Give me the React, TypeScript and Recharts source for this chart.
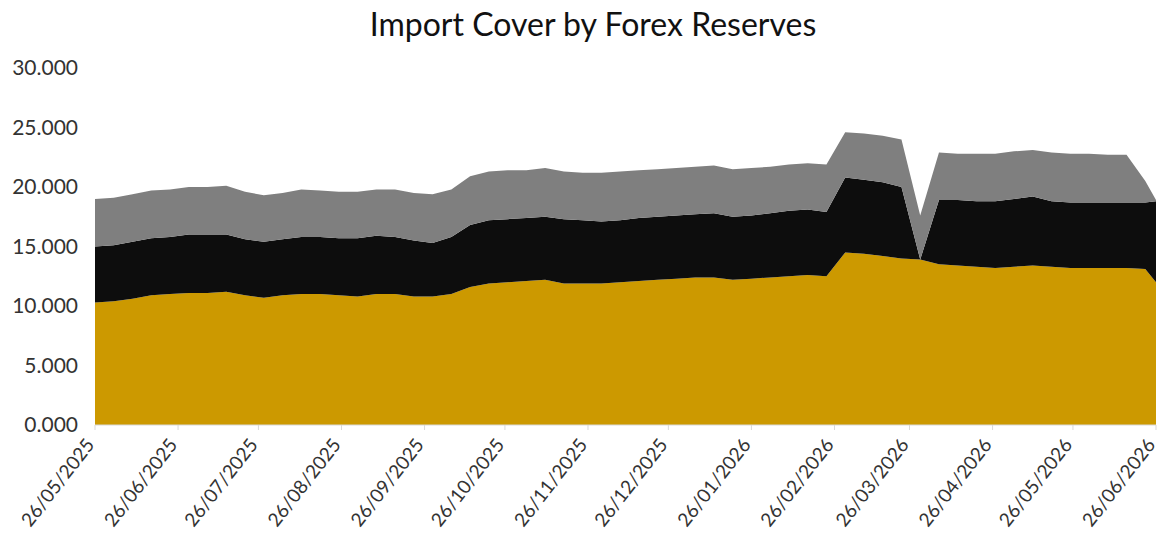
import React from "react";
import { AreaChart, Area, XAxis, YAxis } from "recharts";

// weekly observation dates
const dates = [
  "26/05/2025", "02/06/2025", "09/06/2025", "16/06/2025", "23/06/2025", "30/06/2025",
  "07/07/2025", "14/07/2025", "21/07/2025", "28/07/2025", "04/08/2025", "11/08/2025",
  "18/08/2025", "25/08/2025", "01/09/2025", "08/09/2025", "15/09/2025", "22/09/2025",
  "29/09/2025", "06/10/2025", "13/10/2025", "20/10/2025", "27/10/2025", "03/11/2025",
  "10/11/2025", "17/11/2025", "24/11/2025", "01/12/2025", "08/12/2025", "15/12/2025",
  "22/12/2025", "29/12/2025", "05/01/2026", "12/01/2026", "19/01/2026", "26/01/2026",
  "02/02/2026", "09/02/2026", "16/02/2026", "23/02/2026", "02/03/2026", "09/03/2026",
  "16/03/2026", "23/03/2026", "30/03/2026", "06/04/2026", "13/04/2026", "20/04/2026",
  "27/04/2026", "04/05/2026", "11/05/2026", "18/05/2026", "25/05/2026", "01/06/2026",
  "08/06/2026", "15/06/2026", "22/06/2026", "26/06/2026",
];

// bottom layer (gold)
const goldSeries = [
  10.3, 10.4, 10.6, 10.9, 11.0, 11.1, 11.1, 11.2, 10.9, 10.7, 10.9, 11.0,
  11.0, 10.9, 10.8, 11.0, 11.0, 10.8, 10.8, 11.0, 11.6, 11.9, 12.0, 12.1,
  12.2, 11.9, 11.9, 11.9, 12.0, 12.1, 12.2, 12.3, 12.4, 12.4, 12.2, 12.3,
  12.4, 12.5, 12.6, 12.5, 14.5, 14.4, 14.2, 14.0, 13.9, 13.5, 13.4, 13.3,
  13.2, 13.3, 13.4, 13.3, 13.2, 13.2, 13.2, 13.2, 13.1, 12.0,
];

// middle layer (black)
const blackSeries = [
  4.7, 4.7, 4.8, 4.8, 4.8, 4.9, 4.9, 4.8, 4.7, 4.7, 4.7, 4.8,
  4.8, 4.8, 4.9, 4.9, 4.8, 4.7, 4.5, 4.8, 5.2, 5.3, 5.3, 5.3,
  5.3, 5.4, 5.3, 5.2, 5.2, 5.3, 5.3, 5.3, 5.3, 5.4, 5.3, 5.3,
  5.4, 5.5, 5.5, 5.4, 6.3, 6.2, 6.2, 6.0, 0.0, 5.4, 5.5, 5.5,
  5.6, 5.7, 5.8, 5.5, 5.5, 5.5, 5.5, 5.5, 5.6, 6.8,
];

// top layer (grey)
const greySeries = [
  4.0, 4.0, 4.0, 4.0, 4.0, 4.0, 4.0, 4.1, 4.0, 3.9, 3.9, 4.0,
  3.9, 3.9, 3.9, 3.9, 4.0, 4.0, 4.1, 4.0, 4.1, 4.1, 4.1, 4.0,
  4.1, 4.0, 4.0, 4.1, 4.1, 4.0, 4.0, 4.0, 4.0, 4.0, 4.0, 4.0,
  3.9, 3.9, 3.9, 4.0, 3.8, 3.9, 3.9, 4.0, 3.7, 4.0, 3.9, 4.0,
  4.0, 4.0, 3.9, 4.1, 4.1, 4.1, 4.0, 4.0, 1.8, 0.1,
];

const monthTicks = [
  "26/05/2025", "26/06/2025", "26/07/2025", "26/08/2025", "26/09/2025",
  "26/10/2025", "26/11/2025", "26/12/2025", "26/01/2026", "26/02/2026",
  "26/03/2026", "26/04/2026", "26/05/2026", "26/06/2026",
];

const yTicks = [0, 5, 10, 15, 20, 25, 30];

const toTime = (s: string) => {
  const [d, m, y] = s.split("/").map(Number);
  return Date.UTC(y, m - 1, d);
};

const fmtDate = (t: number) => {
  const d = new Date(t);
  const dd = String(d.getUTCDate()).padStart(2, "0");
  const mm = String(d.getUTCMonth() + 1).padStart(2, "0");
  return `${dd}/${mm}/${d.getUTCFullYear()}`;
};

const data = dates.map((s, i) => ({
  t: toTime(s),
  gold: goldSeries[i],
  black: blackSeries[i],
  grey: greySeries[i],
}));

const FONT = "Lato, 'Noto Sans', sans-serif";

const DateTick = (props: any) => {
  const { x, y, payload } = props;
  return (
    <text
      transform={`translate(${x - 5},${y + 9}) rotate(-52)`}
      textAnchor="end"
      dy="0.35em"
      fontSize={19}
      fontFamily={FONT}
      fill="#333"
    >
      {fmtDate(payload.value)}
    </text>
  );
};

export default function App() {
  return (
    <div style={{ position: "absolute", left: 0, top: 0, width: 1161, height: 535, background: "#fff" }}>
      <div
        style={{
          position: "absolute",
          left: 593,
          top: 4,
          transform: "translateX(-50%)",
          whiteSpace: "nowrap",
          fontFamily: FONT,
          fontSize: 32,
          color: "#111",
        }}
      >
        Import Cover by Forex Reserves
      </div>
      <AreaChart
        width={1161}
        height={535}
        data={data}
        margin={{ top: 68, right: 5, left: 0, bottom: 0 }}
      >
        <XAxis
          dataKey="t"
          type="number"
          domain={[toTime(dates[0]), toTime(dates[dates.length - 1])]}
          ticks={monthTicks.map(toTime)}
          tick={<DateTick />}
          height={110}
          stroke="#d9d9d9"
          tickSize={5}
          interval={0}
        />
        <YAxis
          domain={[0, 30]}
          ticks={yTicks}
          width={95}
          axisLine={false}
          tickLine={false}
          tickSize={6}
          tickMargin={11}
          tickFormatter={(v: number) => v.toFixed(3)}
          tick={{ fontSize: 21, fontFamily: FONT, fill: "#333" }}
        />
        <Area type="linear" dataKey="gold" stackId="1" stroke="none" fill="#cc9900" fillOpacity={1} isAnimationActive={false} />
        <Area type="linear" dataKey="black" stackId="1" stroke="none" fill="#0d0d0d" fillOpacity={1} isAnimationActive={false} />
        <Area type="linear" dataKey="grey" stackId="1" stroke="none" fill="#7f7f7f" fillOpacity={1} isAnimationActive={false} />
      </AreaChart>
    </div>
  );
}
